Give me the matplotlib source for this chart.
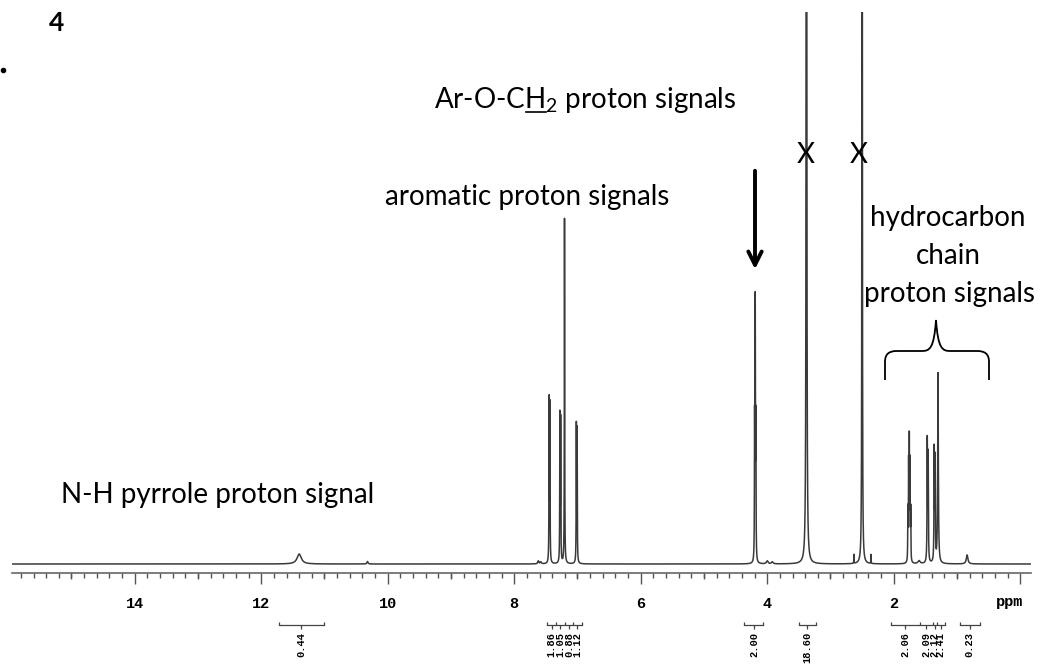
import matplotlib
matplotlib.use('Agg')
import matplotlib.pyplot as plt
import numpy as np
from matplotlib.path import Path
from matplotlib.patches import PathPatch

W, H = 1057, 666

# peak list: shift (ppm), height (px above baseline), half width (ppm)
shift = [11.40, 10.32, 7.62, 7.58,
         7.448, 7.436, 7.278, 7.266, 7.205, 7.018, 7.006,
         4.200, 4.190, 4.180, 4.00, 3.92,
         3.38, 2.63, 2.50, 2.36,
         1.776, 1.765, 1.754, 1.743, 1.732, 1.60,
         1.470, 1.456, 1.360, 1.346, 1.300, 0.84]
height = [10, 2.5, 3, 2,
          160, 155, 145, 140, 345, 135, 130,
          135, 250, 135, 3, 2,
          3000, 9, 3000, 9,
          50, 95, 118, 95, 50, 3,
          120, 105, 110, 100, 190, 9]
hwidth = [0.04, 0.01, 0.01, 0.01,
          0.003, 0.003, 0.003, 0.003, 0.003, 0.003, 0.003,
          0.003, 0.003, 0.003, 0.015, 0.015,
          0.003, 0.002, 0.002, 0.002,
          0.003, 0.003, 0.003, 0.003, 0.003, 0.02,
          0.004, 0.004, 0.004, 0.004, 0.006, 0.015]

# integration regions (ppm edges) and values
int_edges = [[11.72, 11.01],
             [7.48, 7.34, 7.20, 7.07, 6.93],
             [4.36, 4.06],
             [3.50, 3.23],
             [2.05, 1.59, 1.38, 1.32, 1.19],
             [0.96, 0.64]]
int_values = [['0.44'],
              ['1.86', '1.05', '0.88', '1.12'],
              ['2.00'],
              ['18.60'],
              ['2.06', '2.09', '2.12', '2.41'],
              ['0.23']]

ppm = np.linspace(15.94, -0.17, 60000)
spec = np.zeros_like(ppm)
for s, h, w in zip(shift, height, hwidth):
    spec += h / (1 + ((ppm - s) / w) ** 2)

fig = plt.figure(figsize=(W / 100, H / 100), dpi=100)
ax = fig.add_axes([12 / W, 93 / H, 1019 / W, 561 / H])
ax.plot(ppm, spec, color='#3a3a3a', lw=1.1)
ax.set_xlim(15.94, -0.17)
ax.set_ylim(-9, 552)
for side in ['top', 'left', 'right']:
    ax.spines[side].set_visible(False)
ax.spines['bottom'].set_color('#666666')
ax.spines['bottom'].set_linewidth(1.2)
ax.set_yticks([])
ax.patch.set_alpha(0)

ax.set_xticks(np.arange(0, 16, 2))
ax.set_xticklabels([''] + [str(v) for v in range(2, 16, 2)],
                   family='Liberation Mono', fontweight='bold', fontsize=11)
ax.set_xticks(np.arange(0, 15.95, 0.2), minor=True)
ax.tick_params(which='major', length=8, width=1, color='#555555', pad=9)
ax.tick_params(which='minor', length=3.8, width=1, color='#555555')
ax.vlines(np.arange(1, 16, 2), -15, -9, color='#555555', lw=1, clip_on=False)
ax.text(0.17, -38, 'ppm', family='Liberation Mono', fontweight='bold', fontsize=11,
        ha='center', va='center')

# integration brackets
for edges, vals in zip(int_edges, int_values):
    ax.plot([edges[0], edges[-1]], [-61, -61], color='#444444', lw=0.9, clip_on=False)
    ax.vlines(edges, -61, -58, color='#444444', lw=0.9, clip_on=False)
    for a, b, v in zip(edges[:-1], edges[1:], vals):
        m = (a + b) / 2
        ax.vlines(m, -65, -61, color='#444444', lw=0.9, clip_on=False)
        ax.text(m, -68, v, rotation=90, ha='center', va='top', family='Liberation Mono',
                fontweight='bold', fontsize=7.5)

# overlay in image pixels for the hand annotations
ov = fig.add_axes([0, 0, 1, 1])
ov.set_xlim(0, W)
ov.set_ylim(H, 0)
ov.axis('off')

fs = 20
fam = 'Lato'
plt.rcParams['mathtext.fontset'] = 'custom'
plt.rcParams['mathtext.rm'] = fam
plt.rcParams['mathtext.default'] = 'regular'

ov.text(57, 23, '4', fontsize=19, fontweight='bold', family=fam, ha='center', va='center')
ov.plot(3, 70, 'o', color='black', ms=3)

x_ar = 434
ov.text(x_ar, 108, 'Ar-O-CH$_2$ proton signals', fontsize=fs, family=fam, ha='left', va='baseline')

# underline the H in Ar-O-CH2
fig.canvas.draw()
r = fig.canvas.get_renderer()
inv = ov.transData.inverted()
tmp = ov.text(x_ar, 108, 'Ar-O-C', fontsize=fs, family=fam, ha='left', va='baseline')
x0 = inv.transform(tmp.get_window_extent(r).get_points())[1][0]
tmp.set_text('Ar-O-CH')
x1 = inv.transform(tmp.get_window_extent(r).get_points())[1][0]
tmp.remove()
ov.plot([x0 + 1, x1], [112, 112], color='black', lw=1.2)

ov.text(806, 155, 'X', fontsize=fs, family=fam, ha='center', va='center')
ov.text(859, 155, 'X', fontsize=fs, family=fam, ha='center', va='center')
ov.annotate('', xy=(755, 272), xytext=(755, 168),
            arrowprops=dict(arrowstyle='->', lw=2.8, color='black', mutation_scale=24))

ov.text(527, 205, 'aromatic proton signals', fontsize=fs, family=fam, ha='center', va='baseline')
ov.text(218, 503, 'N-H pyrrole proton signal', fontsize=fs, family=fam, ha='center', va='baseline')
ov.text(948, 226, 'hydrocarbon', fontsize=fs, family=fam, ha='center', va='baseline')
ov.text(948, 264, 'chain', fontsize=fs, family=fam, ha='center', va='baseline')
ov.text(950, 302, 'proton signals', fontsize=fs, family=fam, ha='center', va='baseline')

brace = Path([(885, 380), (885, 362), (885, 354), (889, 351), (897, 351), (922, 351),
              (930, 351), (934, 348), (936, 320), (938, 348), (942, 351), (950, 351),
              (977, 351), (985, 351), (989, 354), (989, 362), (989, 380)],
             [Path.MOVETO, Path.LINETO, Path.CURVE4, Path.CURVE4, Path.CURVE4, Path.LINETO,
              Path.CURVE4, Path.CURVE4, Path.CURVE4, Path.CURVE4, Path.CURVE4, Path.CURVE4,
              Path.LINETO, Path.CURVE4, Path.CURVE4, Path.CURVE4, Path.LINETO])
ov.add_patch(PathPatch(brace, fill=False, lw=1.3, color='black'))

fig.savefig('out.png', dpi=100)
